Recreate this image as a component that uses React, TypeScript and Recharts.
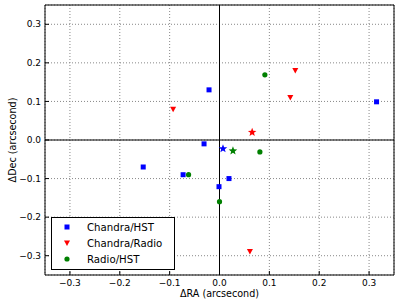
import React from 'react';
import { ScatterChart, Scatter, XAxis, YAxis, CartesianGrid, ReferenceLine, Legend } from 'recharts';

const chandraHst = [
  { x: -0.153, y: -0.07 },
  { x: -0.073, y: -0.09 },
  { x: -0.021, y: 0.13 },
  { x: -0.031, y: -0.01 },
  { x: 0.315, y: 0.099 },
  { x: -0.001, y: -0.121 },
  { x: 0.019, y: -0.1 },
];
const chandraRadio = [
  { x: -0.093, y: 0.08 },
  { x: 0.152, y: 0.18 },
  { x: 0.142, y: 0.11 },
  { x: 0.061, y: -0.289 },
];
const radioHst = [
  { x: 0.091, y: 0.169 },
  { x: 0.081, y: -0.031 },
  { x: -0.062, y: -0.09 },
  { x: 0.0, y: -0.16 },
];
const chandraHstMean = [{ x: 0.007, y: -0.0225 }];
const chandraRadioMean = [{ x: 0.0655, y: 0.02 }];
const radioHstMean = [{ x: 0.027, y: -0.028 }];

const ticks = [-0.3, -0.2, -0.1, 0, 0.1, 0.2, 0.3];
const domain: [number, number] = [-0.35, 0.35];

const BLUE = '#0000ff';
const RED = '#ff0000';
const GREEN = '#008000';
const FONT = '"DejaVu Sans", sans-serif';

const fmt = (v: number) => (v < 0 ? '\u2212' : '') + Math.abs(v).toFixed(1);

const Square = (p: any) => <rect x={p.cx - 2.5} y={p.cy - 2.5} width={5} height={5} fill={p.fill} />;
const TriDown = (p: any) => (
  <polygon points={`${p.cx - 3},${p.cy - 2.5} ${p.cx + 3},${p.cy - 2.5} ${p.cx},${p.cy + 3}`} fill={p.fill} />
);
const Dot = (p: any) => <circle cx={p.cx} cy={p.cy} r={2.6} fill={p.fill} />;
const starPts = (cx: number, cy: number, R: number, r: number) => {
  const pts: string[] = [];
  for (let i = 0; i < 10; i++) {
    const rad = i % 2 === 0 ? R : r;
    const a = -Math.PI / 2 + (i * Math.PI) / 5;
    pts.push(`${cx + rad * Math.cos(a)},${cy + rad * Math.sin(a)}`);
  }
  return pts.join(' ');
};
const Star = (p: any) => <polygon points={starPts(p.cx, p.cy, 4.5, 1.9)} fill={p.fill} />;

const legendItems = [
  { name: 'Chandra/HST', color: BLUE, shape: 'square' },
  { name: 'Chandra/Radio', color: RED, shape: 'tri' },
  { name: 'Radio/HST', color: GREEN, shape: 'dot' },
];

const LegendMarker = ({ shape, color }: { shape: string; color: string }) => (
  <svg width={10} height={10} style={{ display: 'block' }}>
    {shape === 'square' && <Square cx={5} cy={5} fill={color} />}
    {shape === 'tri' && <TriDown cx={5} cy={5} fill={color} />}
    {shape === 'dot' && <Dot cx={5} cy={5} fill={color} />}
  </svg>
);

const LegendBox = () => (
  <div
    style={{
      border: '1px solid #000',
      background: '#fff',
      width: 124,
      height: 53,
      boxSizing: 'border-box',
      paddingTop: 1,
      fontFamily: FONT,
      fontSize: 10.2,
      color: '#000',
    }}
  >
    {legendItems.map((it) => (
      <div key={it.name} style={{ height: 16, display: 'flex', alignItems: 'center', position: 'relative' }}>
        <div style={{ position: 'absolute', left: 10 }}>
          <LegendMarker shape={it.shape} color={it.color} />
        </div>
        <div style={{ position: 'absolute', left: 35, whiteSpace: 'nowrap' }}>{it.name}</div>
      </div>
    ))}
  </div>
);

export default function App() {
  const tickStyle = { fill: '#000', fontSize: 9, fontFamily: FONT };
  return (
    <div style={{ position: 'absolute', left: 0, top: 0, width: 399, height: 307, background: '#fff' }}>
      <ScatterChart width={399} height={307} margin={{ top: 4, right: 4, left: 0, bottom: 0 }}>
        <CartesianGrid stroke="#888" strokeDasharray="1 2" strokeWidth={1} />
        <XAxis
          type="number"
          dataKey="x"
          domain={domain}
          ticks={ticks}
          tickFormatter={fmt}
          height={32}
          stroke="#000"
          tickSize={-4}
          tickMargin={9}
          tick={tickStyle}
          interval={0}
          allowDataOverflow
          label={{ value: '\u0394RA (arcsecond)', position: 'insideBottom', offset: 10, style: { fill: '#000', fontSize: 9.6, fontFamily: FONT } }}
        />
        <XAxis
          xAxisId="top"
          orientation="top"
          type="number"
          dataKey="x"
          domain={domain}
          ticks={ticks}
          height={1}
          stroke="#000"
          tickSize={-4}
          tick={false}
          interval={0}
          allowDataOverflow
        />
        <YAxis
          type="number"
          dataKey="y"
          domain={domain}
          ticks={ticks}
          tickFormatter={fmt}
          width={45}
          stroke="#000"
          tickSize={-4}
          tickMargin={8}
          tick={tickStyle}
          interval={0}
          allowDataOverflow
          label={{
            value: '\u0394Dec (arcsecond)',
            angle: -90,
            position: 'insideLeft',
            offset: 13,
            style: { fill: '#000', fontSize: 9.6, fontFamily: FONT, textAnchor: 'middle' },
          }}
        />
        <YAxis
          yAxisId="right"
          orientation="right"
          type="number"
          dataKey="y"
          domain={domain}
          ticks={ticks}
          width={1}
          stroke="#000"
          tickSize={-4}
          tick={false}
          interval={0}
          allowDataOverflow
        />
        <ReferenceLine x={0} stroke="#000" strokeWidth={1} />
        <ReferenceLine y={0} stroke="#000" strokeWidth={1} />
        <Legend layout="vertical" align="center" verticalAlign="middle" content={<LegendBox />} wrapperStyle={{ left: 51, top: 217, width: 124, height: 53 }} />
        <Scatter name="Chandra/HST" data={chandraHst} fill={BLUE} shape={Square} isAnimationActive={false} />
        <Scatter name="Chandra/Radio" data={chandraRadio} fill={RED} shape={TriDown} isAnimationActive={false} />
        <Scatter name="Radio/HST" data={radioHst} fill={GREEN} shape={Dot} isAnimationActive={false} />
        <Scatter name="Chandra/HST mean" data={chandraHstMean} fill={BLUE} shape={Star} legendType="none" isAnimationActive={false} />
        <Scatter name="Chandra/Radio mean" data={chandraRadioMean} fill={RED} shape={Star} legendType="none" isAnimationActive={false} />
        <Scatter name="Radio/HST mean" data={radioHstMean} fill={GREEN} shape={Star} legendType="none" isAnimationActive={false} />
      </ScatterChart>
    </div>
  );
}
